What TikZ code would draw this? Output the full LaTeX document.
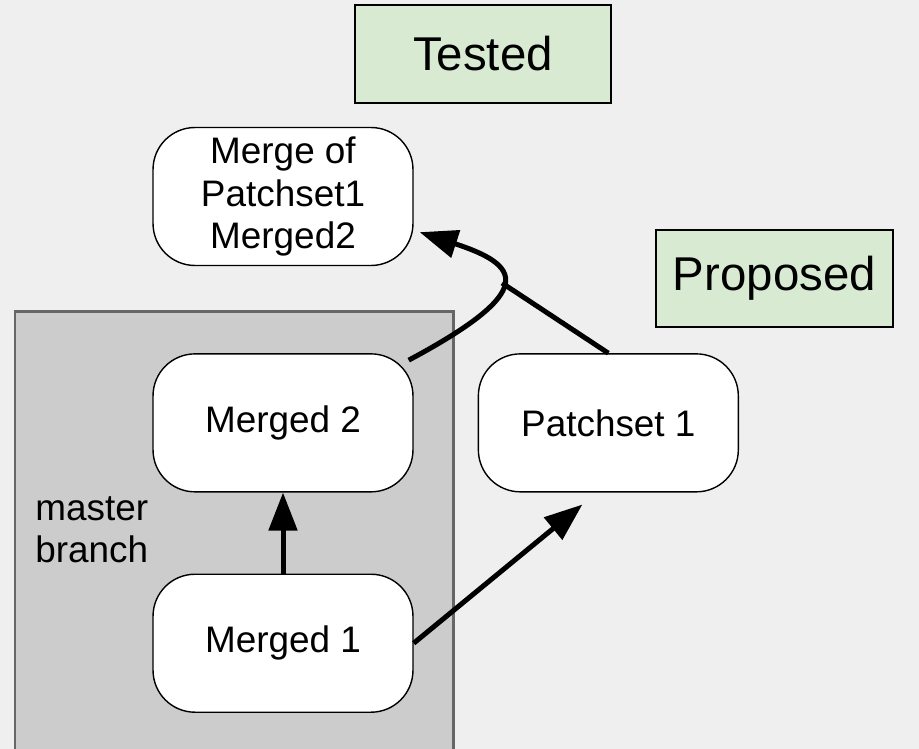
\documentclass[tikz,border=0pt]{standalone}
\usepackage{fontspec}
\setmainfont{Liberation Sans}
\usetikzlibrary{positioning,arrows.meta,calc}
\definecolor{bgcol}{HTML}{EFEFEF}
\definecolor{branchcol}{HTML}{CCCCCC}
\definecolor{branchline}{HTML}{666666}
\definecolor{tagcol}{HTML}{D9EAD3}

\begin{document}
\begin{tikzpicture}[
  x=0.02cm, y=-0.02cm,
  commit/.style={draw, line width=0.8pt, fill=white, rounded corners=0.84cm,
                 minimum width=5.2cm, minimum height=2.76cm, align=center,
                 inner sep=0pt, font=\fontsize{21}{24}\selectfont},
  tag/.style={draw, line width=1.1pt, fill=tagcol, minimum height=1.95cm,
              inner sep=0pt, font=\fontsize{27}{32}\selectfont},
  arr/.style={-{Triangle[length=0.76cm,width=0.56cm]}, line width=0.1cm}
]
\fill[bgcol] (0,0) rectangle (919,749);
\useasboundingbox (0,0) rectangle (919,749);

% master branch area
\filldraw[fill=branchcol, draw=branchline, line width=0.06cm]
  (15,760) -- (15,312) -- (453,312) -- (453,760);
\node[anchor=west, align=left, inner sep=0pt,
      font=\fontsize{21}{24}\selectfont] (master) at (35,530) {master\\branch};

% labels
\node[tag, minimum width=5.12cm] (tested)   at (483,54)    {Tested};
\node[tag, minimum width=4.74cm] (proposed) at (774.5,278.5) {Proposed};

% commits
\node[commit] (mergeof) at (283,196.5) {Merge of\\Patchset1\\Merged2};
\node[commit, below=1.74cm of mergeof]   (mergedtwo) {Merged 2};
\node[commit, below=1.62cm of mergedtwo] (mergedone) {Merged 1};
\node[commit, right=1.28cm of mergedtwo] (patchset)  {Patchset 1};

\draw[arr] (mergedone) -- (mergedtwo);
\draw[arr] (mergedone.east) -- ($(patchset.south)+(-26,12)$);

\coordinate (join) at (502,283);
\draw[arr] ($(mergedtwo.north east)+(-5,7)$)
  .. controls (540,290) and (520,265) .. ($(mergeof.south east)+(6,-34)$);
\draw[line width=0.1cm] (patchset.north) -- (join);
\end{tikzpicture}
\end{document}
